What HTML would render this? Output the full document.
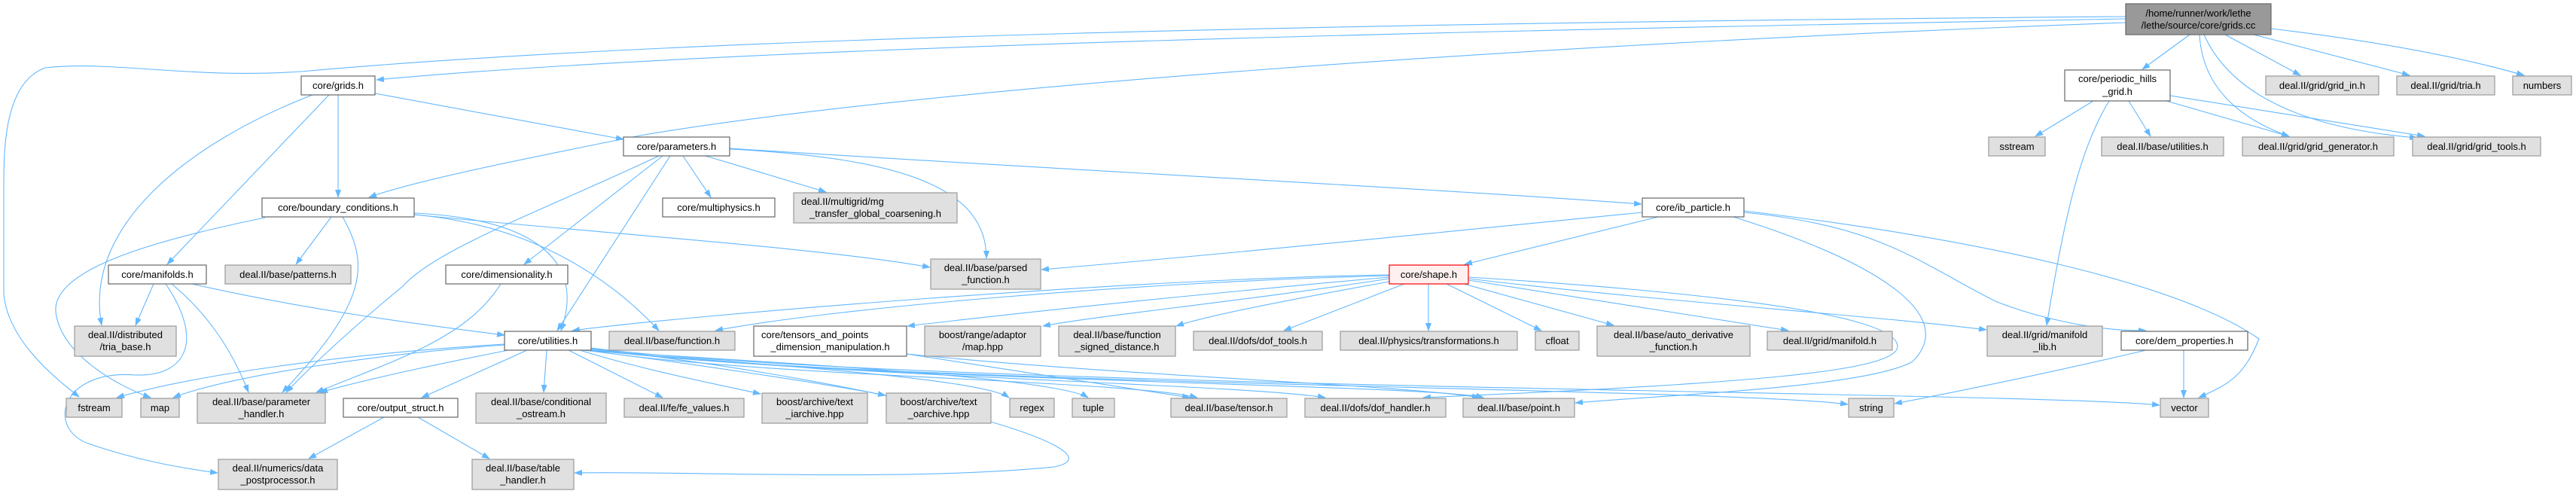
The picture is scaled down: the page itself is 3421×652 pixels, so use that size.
<!DOCTYPE html>
<html><head><meta charset="utf-8"><style>
html,body{margin:0;padding:0;background:#fff}
svg{display:block}
text{font-family:"Liberation Sans","DejaVu Sans",sans-serif;font-size:13px;fill:#000}
.e{fill:none;stroke:#63b8ff;stroke-width:1.1}
.w{fill:#fff;stroke:#666;stroke-width:1.2}
.g{fill:#e0e0e0;stroke:#999;stroke-width:1.2}
</style></head><body>
<svg width="3421" height="652" viewBox="0 0 3421 652" xmlns="http://www.w3.org/2000/svg">
<defs><marker id="a" markerWidth="11" markerHeight="8" refX="10" refY="4" orient="auto" markerUnits="userSpaceOnUse"><path d="M0,0 L11,4 L0,8 z" fill="#63b8ff"/></marker></defs>
<g class="e" marker-end="url(#a)">
<path d="M2823,25 C2000,40 1000,60 500,106"/>
<path d="M2823,22 C1800,30 900,50 400,95 C250,105 150,80 60,90 C5,110 5,200 5,250 L5,390 C10,450 70,500 105,527"/>
<path d="M2823,30 C2000,60 1200,120 850,180 C700,210 550,240 490,262"/>
<path d="M2908,46 L2845,92"/>
<path d="M2955,46 L3055,100"/>
<path d="M2993,46 L3200,100"/>
<path d="M3016,38 C3200,60 3300,85 3352,100"/>
<path d="M2921,46 C2925,120 2980,160 3040,181"/>
<path d="M2927,46 C2960,120 3050,170 3210,183"/>
<path d="M2780,134 L2703,181"/>
<path d="M2827,134 L2856,181"/>
<path d="M2877,134 L3040,181"/>
<path d="M2882,127 L3220,181"/>
<path d="M2801,134 C2760,200 2740,300 2718,432"/>
<path d="M498,124 L828,185"/>
<path d="M449,126 L449,262"/>
<path d="M437,126 L222,351"/>
<path d="M415,126 C250,190 110,300 135,432"/>
<path d="M907,207 L944,262"/>
<path d="M937,207 L1097,255"/>
<path d="M969,198 C1200,210 1310,250 1310,343"/>
<path d="M969,197 C1400,225 1900,250 2180,271"/>
<path d="M890,207 L740,439"/>
<path d="M880,207 L696,351"/>
<path d="M875,207 C720,280 580,330 535,380 C450,450 400,500 380,521"/>
<path d="M550,285 C800,310 1100,330 1235,355"/>
<path d="M440,288 L393,351"/>
<path d="M455,288 C490,350 490,400 375,521"/>
<path d="M352,289 C200,320 60,360 75,420 C85,470 150,510 200,528"/>
<path d="M550,283 C700,290 780,340 745,439"/>
<path d="M550,285 C720,300 820,380 875,439"/>
<path d="M204,377 L180,432"/>
<path d="M228,377 C280,420 310,470 330,521"/>
<path d="M255,377 C400,410 550,430 670,445"/>
<path d="M220,377 C270,450 250,500 180,498 C80,490 60,570 120,590 C180,610 230,620 289,628"/>
<path d="M665,377 C620,450 520,480 420,521"/>
<path d="M670,457 C450,470 250,500 155,528"/>
<path d="M670,458 C500,470 300,500 230,528"/>
<path d="M675,465 C600,480 500,500 425,521"/>
<path d="M700,465 L560,528"/>
<path d="M726,465 L722,521"/>
<path d="M755,465 L880,528"/>
<path d="M770,465 C850,490 950,510 1010,523"/>
<path d="M775,465 C900,480 1100,510 1176,525"/>
<path d="M775,465 C950,480 1300,500 1340,528"/>
<path d="M775,465 C1000,480 1400,500 1445,528"/>
<path d="M780,465 C1000,500 1500,505 1590,528"/>
<path d="M780,464 C1100,500 1650,510 1760,528"/>
<path d="M782,464 C1100,505 1900,510 1970,528"/>
<path d="M785,463 C1100,510 2300,515 2454,537"/>
<path d="M785,462 C1200,515 2700,520 2868,538"/>
<path d="M785,463 C1200,510 1500,600 1400,620 C1200,640 900,625 763,628"/>
<path d="M510,554 L410,609"/>
<path d="M555,554 L650,609"/>
<path d="M1845,365 C1500,370 900,420 760,439"/>
<path d="M1845,366 C1500,375 1100,410 950,439"/>
<path d="M1845,368 C1600,390 1400,410 1205,433"/>
<path d="M1845,370 C1650,400 1450,420 1385,433"/>
<path d="M1845,374 C1700,400 1600,420 1562,433"/>
<path d="M1865,377 L1705,439"/>
<path d="M1897,377 L1897,439"/>
<path d="M1921,377 L2047,439"/>
<path d="M1944,377 L2143,432"/>
<path d="M1950,372 L2375,439"/>
<path d="M1950,370 C2200,400 2500,420 2638,438"/>
<path d="M1950,368 C2300,390 2520,420 2520,460 C2520,495 2300,510 1890,528"/>
<path d="M2181,282 C1900,310 1600,340 1383,358"/>
<path d="M2202,288 L1945,351"/>
<path d="M2302,288 C2500,350 2600,420 2540,480 C2480,515 2200,525 2092,535"/>
<path d="M2316,282 C2500,300 2550,350 2650,400 C2700,420 2780,440 2850,439"/>
<path d="M2316,280 C2650,320 2900,380 3000,450 C2980,500 2960,510 2920,528"/>
<path d="M1204,470 C1400,500 1500,515 1580,528"/>
<path d="M1204,470 C1500,500 1850,510 1965,528"/>
<path d="M2900,465 L2900,528"/>
<path d="M2850,465 C2700,500 2600,520 2516,536"/>
</g>
<g>
<rect x="2823" y="5" width="193" height="41" fill="#999" stroke="#666" stroke-width="1.2"/>
<text x="2919.5" y="22" text-anchor="middle">/home/runner/work/lethe</text>
<text x="2919.5" y="38" text-anchor="middle">/lethe/source/core/grids.cc</text>

<rect class="w" x="400" y="101" width="98" height="25"/><text x="449" y="118" text-anchor="middle">core/grids.h</text>
<rect class="w" x="828" y="182" width="141" height="25"/><text x="898.5" y="199" text-anchor="middle">core/parameters.h</text>
<rect class="w" x="348" y="263" width="202" height="25"/><text x="449" y="280" text-anchor="middle">core/boundary_conditions.h</text>
<rect class="w" x="880" y="263" width="149" height="25"/><text x="954.5" y="280" text-anchor="middle">core/multiphysics.h</text>
<rect class="g" x="1054" y="256" width="217" height="40"/><text x="1064" y="272">deal.II/multigrid/mg</text><text x="1162.5" y="288" text-anchor="middle">_transfer_global_coarsening.h</text>
<rect class="w" x="2181" y="263" width="135" height="25"/><text x="2248.5" y="280" text-anchor="middle">core/ib_particle.h</text>
<rect class="w" x="2742" y="93" width="140" height="41"/><text x="2812" y="109" text-anchor="middle">core/periodic_hills</text><text x="2812" y="126" text-anchor="middle">_grid.h</text>
<rect class="g" x="3009" y="101" width="150" height="25"/><text x="3084" y="118" text-anchor="middle">deal.II/grid/grid_in.h</text>
<rect class="g" x="3183" y="101" width="130" height="25"/><text x="3248" y="118" text-anchor="middle">deal.II/grid/tria.h</text>
<rect class="g" x="3337" y="101" width="78" height="25"/><text x="3376" y="118" text-anchor="middle">numbers</text>
<rect class="g" x="2641" y="182" width="75" height="25"/><text x="2678.5" y="199" text-anchor="middle">sstream</text>
<rect class="g" x="2791" y="182" width="162" height="25"/><text x="2872" y="199" text-anchor="middle">deal.II/base/utilities.h</text>
<rect class="g" x="2978" y="182" width="201" height="25"/><text x="3078.5" y="199" text-anchor="middle">deal.II/grid/grid_generator.h</text>
<rect class="g" x="3204" y="182" width="170" height="25"/><text x="3289" y="199" text-anchor="middle">deal.II/grid/grid_tools.h</text>
<rect class="w" x="144" y="352" width="130" height="25"/><text x="209" y="369" text-anchor="middle">core/manifolds.h</text>
<rect class="g" x="299" y="352" width="167" height="25"/><text x="382.5" y="369" text-anchor="middle">deal.II/base/patterns.h</text>
<rect class="w" x="592" y="352" width="162" height="25"/><text x="673" y="369" text-anchor="middle">core/dimensionality.h</text>
<rect class="g" x="1236" y="344" width="146" height="40"/><text x="1309" y="360" text-anchor="middle">deal.II/base/parsed</text><text x="1309" y="376" text-anchor="middle">_function.h</text>
<rect x="1845" y="352" width="105" height="25" fill="#fff0f0" stroke="#f00" stroke-width="1.2"/><text x="1897.5" y="369" text-anchor="middle">core/shape.h</text>
<rect class="g" x="99" y="433" width="135" height="40"/><text x="166.5" y="449" text-anchor="middle">deal.II/distributed</text><text x="166.5" y="465" text-anchor="middle">/tria_base.h</text>
<rect class="w" x="670" y="440" width="115" height="25"/><text x="727.5" y="457" text-anchor="middle">core/utilities.h</text>
<rect class="g" x="809" y="440" width="167" height="25"/><text x="892.5" y="457" text-anchor="middle">deal.II/base/function.h</text>
<rect class="w" x="1001" y="433" width="203" height="40"/><text x="1011" y="449">core/tensors_and_points</text><text x="1102.5" y="465" text-anchor="middle">_dimension_manipulation.h</text>
<rect class="g" x="1228" y="433" width="154" height="40"/><text x="1305" y="449" text-anchor="middle">boost/range/adaptor</text><text x="1305" y="465" text-anchor="middle">/map.hpp</text>
<rect class="g" x="1406" y="433" width="155" height="40"/><text x="1483.5" y="449" text-anchor="middle">deal.II/base/function</text><text x="1483.5" y="465" text-anchor="middle">_signed_distance.h</text>
<rect class="g" x="1585" y="440" width="171" height="25"/><text x="1670.5" y="457" text-anchor="middle">deal.II/dofs/dof_tools.h</text>
<rect class="g" x="1780" y="440" width="235" height="25"/><text x="1897.5" y="457" text-anchor="middle">deal.II/physics/transformations.h</text>
<rect class="g" x="2039" y="440" width="58" height="25"/><text x="2068" y="457" text-anchor="middle">cfloat</text>
<rect class="g" x="2121" y="433" width="203" height="40"/><text x="2222.5" y="449" text-anchor="middle">deal.II/base/auto_derivative</text><text x="2222.5" y="465" text-anchor="middle">_function.h</text>
<rect class="g" x="2347" y="440" width="166" height="25"/><text x="2430" y="457" text-anchor="middle">deal.II/grid/manifold.h</text>
<rect class="g" x="2639" y="433" width="153" height="40"/><text x="2715.5" y="449" text-anchor="middle">deal.II/grid/manifold</text><text x="2715.5" y="465" text-anchor="middle">_lib.h</text>
<rect class="w" x="2817" y="440" width="168" height="25"/><text x="2901" y="457" text-anchor="middle">core/dem_properties.h</text>
<rect class="g" x="88" y="529" width="74" height="25"/><text x="125" y="546" text-anchor="middle">fstream</text>
<rect class="g" x="187" y="529" width="51" height="25"/><text x="212.5" y="546" text-anchor="middle">map</text>
<rect class="g" x="262" y="522" width="170" height="40"/><text x="347" y="538" text-anchor="middle">deal.II/base/parameter</text><text x="347" y="554" text-anchor="middle">_handler.h</text>
<rect class="w" x="456" y="529" width="152" height="25"/><text x="532" y="546" text-anchor="middle">core/output_struct.h</text>
<rect class="g" x="632" y="522" width="173" height="40"/><text x="718.5" y="538" text-anchor="middle">deal.II/base/conditional</text><text x="718.5" y="554" text-anchor="middle">_ostream.h</text>
<rect class="g" x="829" y="529" width="159" height="25"/><text x="908.5" y="546" text-anchor="middle">deal.II/fe/fe_values.h</text>
<rect class="g" x="1012" y="522" width="140" height="40"/><text x="1082" y="538" text-anchor="middle">boost/archive/text</text><text x="1082" y="554" text-anchor="middle">_iarchive.hpp</text>
<rect class="g" x="1177" y="522" width="139" height="40"/><text x="1246.5" y="538" text-anchor="middle">boost/archive/text</text><text x="1246.5" y="554" text-anchor="middle">_oarchive.hpp</text>
<rect class="g" x="1341" y="529" width="59" height="25"/><text x="1370.5" y="546" text-anchor="middle">regex</text>
<rect class="g" x="1424" y="529" width="56" height="25"/><text x="1452" y="546" text-anchor="middle">tuple</text>
<rect class="g" x="1555" y="529" width="154" height="25"/><text x="1632" y="546" text-anchor="middle">deal.II/base/tensor.h</text>
<rect class="g" x="1733" y="529" width="187" height="25"/><text x="1826.5" y="546" text-anchor="middle">deal.II/dofs/dof_handler.h</text>
<rect class="g" x="1943" y="529" width="148" height="25"/><text x="2017" y="546" text-anchor="middle">deal.II/base/point.h</text>
<rect class="g" x="2455" y="529" width="60" height="25"/><text x="2485" y="546" text-anchor="middle">string</text>
<rect class="g" x="2869" y="529" width="64" height="25"/><text x="2901" y="546" text-anchor="middle">vector</text>
<rect class="g" x="290" y="610" width="158" height="40"/><text x="369" y="626" text-anchor="middle">deal.II/numerics/data</text><text x="369" y="642" text-anchor="middle">_postprocessor.h</text>
<rect class="g" x="627" y="610" width="135" height="40"/><text x="694.5" y="626" text-anchor="middle">deal.II/base/table</text><text x="694.5" y="642" text-anchor="middle">_handler.h</text>
</g>
</svg>
</body></html>
